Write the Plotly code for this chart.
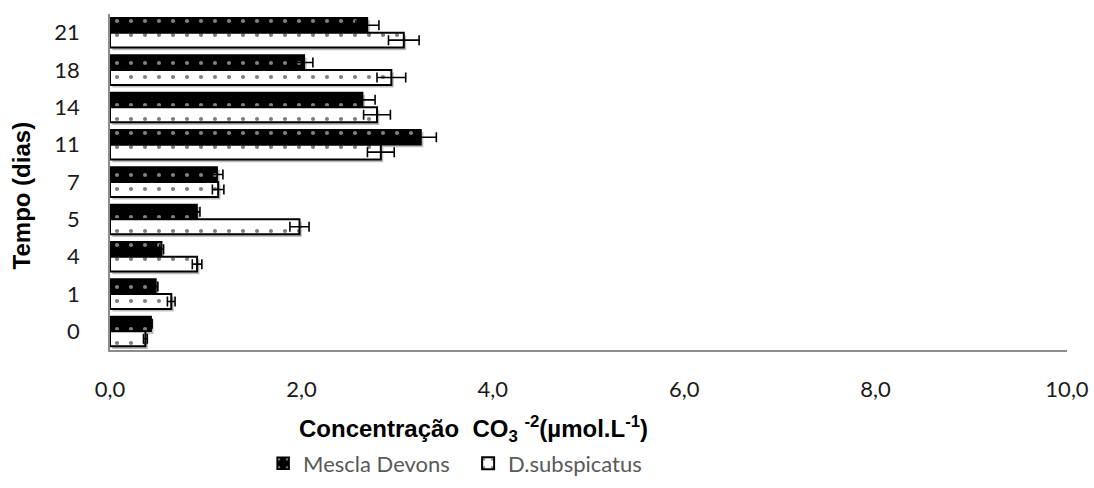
import plotly.graph_objects as go

# Data
dias = ["0", "1", "4", "5", "7", "11", "14", "18", "21"]
mescla = [0.43, 0.48, 0.54, 0.91, 1.12, 3.25, 2.64, 2.03, 2.69]
mescla_err = [0.01, 0.02, 0.02, 0.03, 0.06, 0.16, 0.13, 0.09, 0.12]
dsub = [0.37, 0.64, 0.91, 1.98, 1.13, 2.83, 2.79, 2.94, 3.07]
dsub_err = [0.02, 0.04, 0.05, 0.10, 0.06, 0.14, 0.14, 0.15, 0.16]
xticks = [0, 2, 4, 6, 8, 10]
xticklabels = ["0,0", "2,0", "4,0", "6,0", "8,0", "10,0"]

BAR_W = 0.4
SH_X = 0.025
SH_Y = 0.07
shadow_col = "rgba(110,110,110,0.45)"

fig = go.Figure()

# drop shadows (under the bars)
for vals, off in ((mescla, 0.0), (dsub, -BAR_W)):
    fig.add_trace(go.Bar(
        y=dias, x=vals, orientation="h", base=SH_X,
        width=BAR_W, offset=off - SH_Y,
        marker=dict(color=shadow_col, line=dict(width=0)),
        showlegend=False, hoverinfo="skip",
    ))

fig.add_trace(go.Bar(
    name="Mescla Devons", y=dias, x=mescla, orientation="h",
    width=BAR_W, offset=0.0,
    marker=dict(color="black",
                line=dict(color="black", width=1.5),
                pattern=dict(shape=".", bgcolor="black", fgcolor="white",
                             size=14, solidity=0.07)),
    error_x=dict(type="data", array=mescla_err, visible=True,
                 color="black", thickness=1.6, width=5),
))
fig.add_trace(go.Bar(
    name="D.subspicatus", y=dias, x=dsub, orientation="h",
    width=BAR_W, offset=-BAR_W,
    marker=dict(color="white",
                line=dict(color="black", width=2),
                pattern=dict(shape=".", bgcolor="white", fgcolor="black",
                             size=14, solidity=0.07)),
    error_x=dict(type="data", array=dsub_err, visible=True,
                 color="black", thickness=1.6, width=5),
))

tick_font = dict(family="Lato, 'Open Sans', sans-serif", size=22, color="#1a1a1a")

fig.update_layout(
    width=1094, height=488,
    margin=dict(l=110, r=27, t=14, b=138, autoexpand=False),
    paper_bgcolor="white", plot_bgcolor="white",
    barmode="overlay",
    showlegend=True,
    legend=dict(orientation="h", x=0.16, xanchor="left", y=-0.338, yanchor="middle",
                entrywidth=160, entrywidthmode="pixels",
                font=dict(family="Lato, 'Open Sans', sans-serif", size=22, color="#595959"),
                bgcolor="rgba(0,0,0,0)", itemclick=False),
    xaxis=dict(range=[0, 10], tickvals=xticks, ticktext=xticklabels,
               showgrid=False, zeroline=False, showline=True, automargin=False,
               linecolor="#8c8c8c", linewidth=1.5, ticks="",
               ticklabelstandoff=19, tickfont=tick_font, fixedrange=True),
    yaxis=dict(type="category", categoryorder="array", categoryarray=dias,
               range=[-0.5, 8.5], showgrid=False, zeroline=False, showline=True,
               automargin=False,
               linecolor="#8c8c8c", linewidth=1.5, ticks="",
               ticklabelstandoff=24, tickfont=tick_font, fixedrange=True),
    annotations=[
        dict(text="Tempo (dias)", textangle=-90, xref="paper", yref="paper",
             x=-0.093, y=0.46, xanchor="center", yanchor="middle", showarrow=False,
             font=dict(family="Liberation Sans, Arial, sans-serif", size=24, color="black",
                       weight="bold")),
        dict(text="Concentração  CO<sub>3</sub> <sup>-2</sup>(µmol.L<sup>-1</sup>)",
             xref="paper", yref="paper", x=0.38, y=-0.235,
             xanchor="center", yanchor="middle", showarrow=False,
             font=dict(family="Liberation Sans, Arial, sans-serif", size=24, color="black",
                       weight="bold")),
    ],
)

fig.write_html("out.html")
